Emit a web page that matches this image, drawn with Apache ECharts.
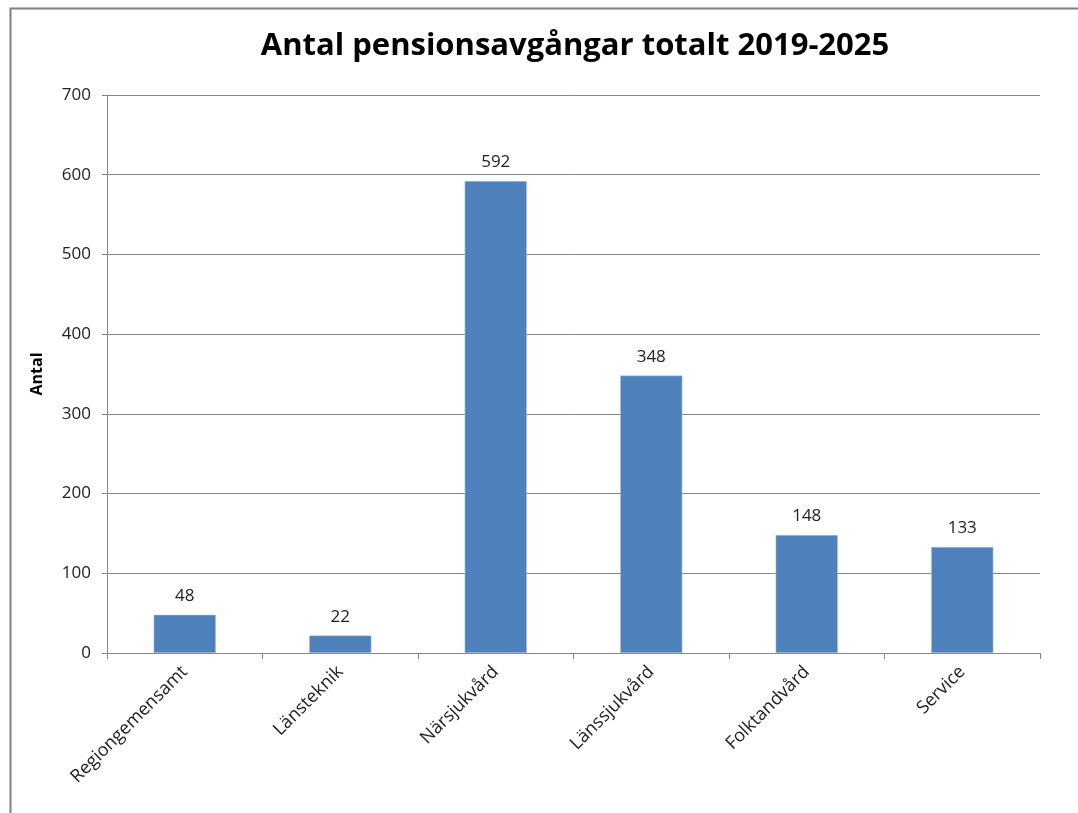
<!DOCTYPE html>
<html><head><meta charset="utf-8">
<script src="https://cdn.jsdelivr.net/npm/echarts@6/dist/echarts.min.js"></script>
<style>html,body{margin:0;padding:0;background:#fff}#c{width:1078px;height:813px}</style>
</head><body><div id="c"></div>
<script>
const categories = ['Regiongemensamt','Länsteknik','Närsjukvård','Länssjukvård','Folktandvård','Service'];
const values = [48, 22, 592, 348, 148, 133];
const yTicks = [0, 100, 200, 300, 400, 500, 600, 700];
const titleText = 'Antal pensionsavgångar totalt 2019-2025';
const yName = 'Antal';

const chart = echarts.init(document.getElementById('c'));
chart.setOption({
  animation: false,
  backgroundColor: '#fff',
  graphic: [{
    type: 'rect', shape: {x: 10.5, y: 8.5, width: 1080, height: 820},
    style: {fill: 'none', stroke: '#7f7f7f', lineWidth: 2}, silent: true
  }, {
    type: 'text', x: 575, y: 31, silent: true,
    style: {text: titleText, align: 'center', verticalAlign: 'top',
      fontFamily: 'Open Sans', fontWeight: 'bold', fontSize: 31, fill: '#000'}
  }],
  grid: {left: 107, right: 38, top: 95, bottom: 160},
  xAxis: {
    type: 'category', data: categories,
    axisLine: {lineStyle: {color: '#868686', width: 1}},
    axisTick: {show: true, alignWithLabel: false, length: 6, lineStyle: {color: '#868686'}},
    axisLabel: {rotate: 45, fontFamily: 'Open Sans', fontSize: 18, color: '#222', margin: 16, interval: 0}
  },
  yAxis: {
    type: 'value', min: 0, max: 700, interval: 100,
    name: yName, nameLocation: 'middle', nameGap: 62, nameRotate: 90,
    nameTextStyle: {fontFamily: 'Open Sans', fontWeight: 'bold', fontSize: 16, color: '#000'},
    axisLine: {show: true, lineStyle: {color: '#868686'}},
    axisTick: {show: true, length: 5, lineStyle: {color: '#868686'}},
    axisLabel: {fontFamily: 'Open Sans', fontSize: 17, color: '#222', margin: 16,
      formatter: v => yTicks.includes(v) ? String(v) : ''},
    splitLine: {lineStyle: {color: '#868686', width: 1}}
  },
  series: [{
    type: 'bar', data: values, barWidth: '40%',
    itemStyle: {color: '#4f81bd', borderColor: '#b9cde5', borderWidth: 0.5},
    label: {show: true, position: 'top', distance: 10, fontFamily: 'Open Sans', fontSize: 17, color: '#222'}
  }]
});
</script></body></html>
